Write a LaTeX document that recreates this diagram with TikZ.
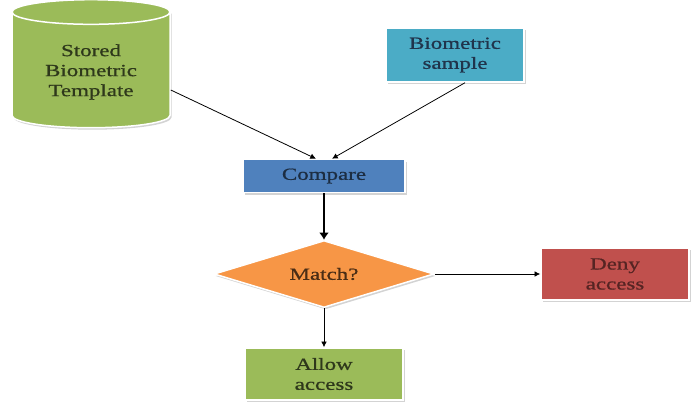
\documentclass[tikz,border=0pt]{standalone}
\usepackage{fontspec}
\setmainfont[FakeStretch=1.35, FakeBold=0.8]{Liberation Serif}
\usetikzlibrary{arrows.meta,shapes.geometric,shadows}
\definecolor{olivefill}{HTML}{9BBB59}
\definecolor{aquafill}{HTML}{4BACC6}
\definecolor{bluefill}{HTML}{4F81BD}
\definecolor{orangefill}{HTML}{F79646}
\definecolor{redfill}{HTML}{C0504D}
\tikzset{%
  >={Latex[width=2mm,length=2mm]},
  % Specifications for style of nodes:
        base/.style = {rectangle, draw=white, line width=1.5pt,
                       text centered, align=center, font=\fontsize{17}{20}\selectfont,
                       drop shadow={shadow xshift=1.5pt, shadow yshift=-2pt,
                                    opacity=0.35}},
    database/.style = {base, cylinder, shape border rotate=90, aspect=0.25,
                       fill=olivefill, minimum width=158pt, minimum height=128pt,
                       text=olivefill!30!black},
       input/.style = {base, fill=aquafill, minimum width=138pt,
                       minimum height=54pt, text=bluefill!40!black},
     process/.style = {base, fill=bluefill, minimum width=162pt,
                       minimum height=33pt, text=bluefill!35!black},
    decision/.style = {base, diamond, fill=orangefill, aspect=3.3,
                       minimum width=220pt, minimum height=67pt,
                       inner sep=0pt, text=orangefill!30!black},
        deny/.style = {base, fill=redfill, minimum width=148pt,
                       minimum height=52pt, text=redfill!45!black},
       allow/.style = {base, fill=olivefill, minimum width=158pt,
                       minimum height=52pt, text=olivefill!30!black},
}

\begin{document}
\begin{tikzpicture}[x=1pt, y=-1pt, node distance=98pt]
  \useasboundingbox (0,0) rectangle (696,412);
  % Specification of nodes (position, etc.)
  \node (store)   [database] at (91,72)   {Stored\\Biometric\\Template};
  \node (sample)  [input]    at (455,55)  {Biometric\\sample};
  \node (compare) [process]  at (324,176) {Compare};
  \node (match)   [decision, below of=compare] {Match?};
  \node (allow)   [allow, below of=match, yshift=-2pt] {Allow\\access};
  \node (deny)    [deny]     at (615,274) {Deny\\access};
  % Specification of lines between nodes specified above
  \draw[->, line width=0.8pt] ([yshift=-18pt]store.east) -- ([xshift=-8pt]compare.north);
  \draw[->, line width=0.8pt] ([xshift=10pt]sample.south) -- ([xshift=8pt]compare.north);
  \draw[->, line width=2.5pt, >={Latex[width=3.5mm,length=2.5mm]}] (compare) -- (match);
  \draw[->, line width=0.8pt] (match) -- (deny);
  \draw[->, line width=0.8pt] (match) -- (allow);
\end{tikzpicture}
\end{document}
